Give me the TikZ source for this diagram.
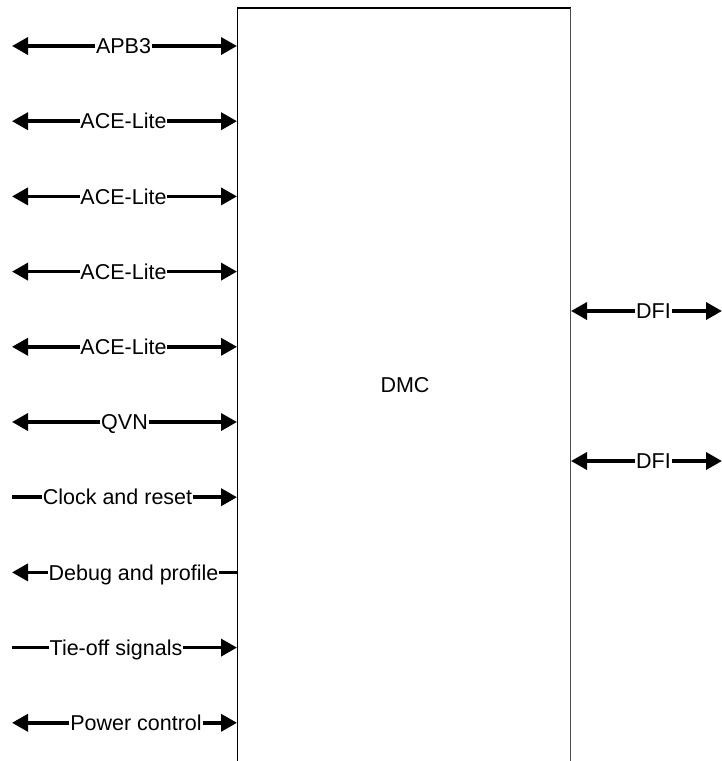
\documentclass[tikz,border=0pt]{standalone}
\usepackage{fontspec}
\setmainfont{Liberation Sans}
\usetikzlibrary{arrows.meta}
\tikzset{
  sig/.style={line width=3.6pt, -{Triangle[length=16pt,width=17pt]}},
  plainsig/.style={line width=3.6pt},
  lbl/.style={inner xsep=0.6pt, inner ysep=0pt, text height=15.3pt, text depth=0pt, font=\fontsize{21.5}{25}\selectfont},
  boxleft/.style={line width=1.2pt, draw=black},
  boxright/.style={line width=1.2pt, draw=black!70},
}
\begin{document}
\begin{tikzpicture}[x=1pt,y=-1pt]
\useasboundingbox (0,0) rectangle (722,761);
% DMC box (open at the bottom, cut by the page)
\coordinate (bsw) at (237.5,762);
\coordinate (bnw) at (237.5,8);
\coordinate (bne) at (570.5,8);
\coordinate (bse) at (570.5,762);
\draw[boxleft] (bsw) -- (bnw) -- (bne);
\draw[boxright] (bne) -- (bse);
\node[lbl] (dmc) at (405,385) {DMC};
% left-side rows
\foreach \i/\cx/\txt/\kind in {
  0/123.5/APB3/both,
  1/123.5/ACE-Lite/both,
  2/123.5/ACE-Lite/both,
  3/123.5/ACE-Lite/both,
  4/123.5/ACE-Lite/both,
  5/124.5/QVN/both,
  6/117.5/Clock and reset/in,
  7/133.5/Debug and profile/out,
  8/116/Tie-off signals/in,
  9/136/Power control/both}{
  \pgfmathsetmacro{\yy}{46+75.2*\i}
  \coordinate (l\i) at (12,\yy);
  \coordinate (r\i) at (237,\yy);
  \node[lbl] (t\i) at (\cx,\yy) {\txt};
  \ifnum\pdfstrcmp{\kind}{both}=0
    \draw[sig] (t\i.west) -- (l\i);
    \draw[sig] (t\i.east) -- (r\i);
  \fi
  \ifnum\pdfstrcmp{\kind}{in}=0
    \draw[plainsig] (t\i.west) -- (l\i);
    \draw[sig] (t\i.east) -- (r\i);
  \fi
  \ifnum\pdfstrcmp{\kind}{out}=0
    \draw[sig] (t\i.west) -- (l\i);
    \draw[plainsig] (t\i.east) -- (r\i);
  \fi
}
% right-side DFI rows
\foreach \j/\yy in {0/311, 1/461}{
  \coordinate (dl\j) at (571,\yy);
  \coordinate (dr\j) at (722,\yy);
  \node[lbl] (d\j) at (653.5,\yy) {DFI};
  \draw[sig] (d\j.west) -- (dl\j);
  \draw[sig] (d\j.east) -- (dr\j);
}
\end{tikzpicture}
\end{document}
